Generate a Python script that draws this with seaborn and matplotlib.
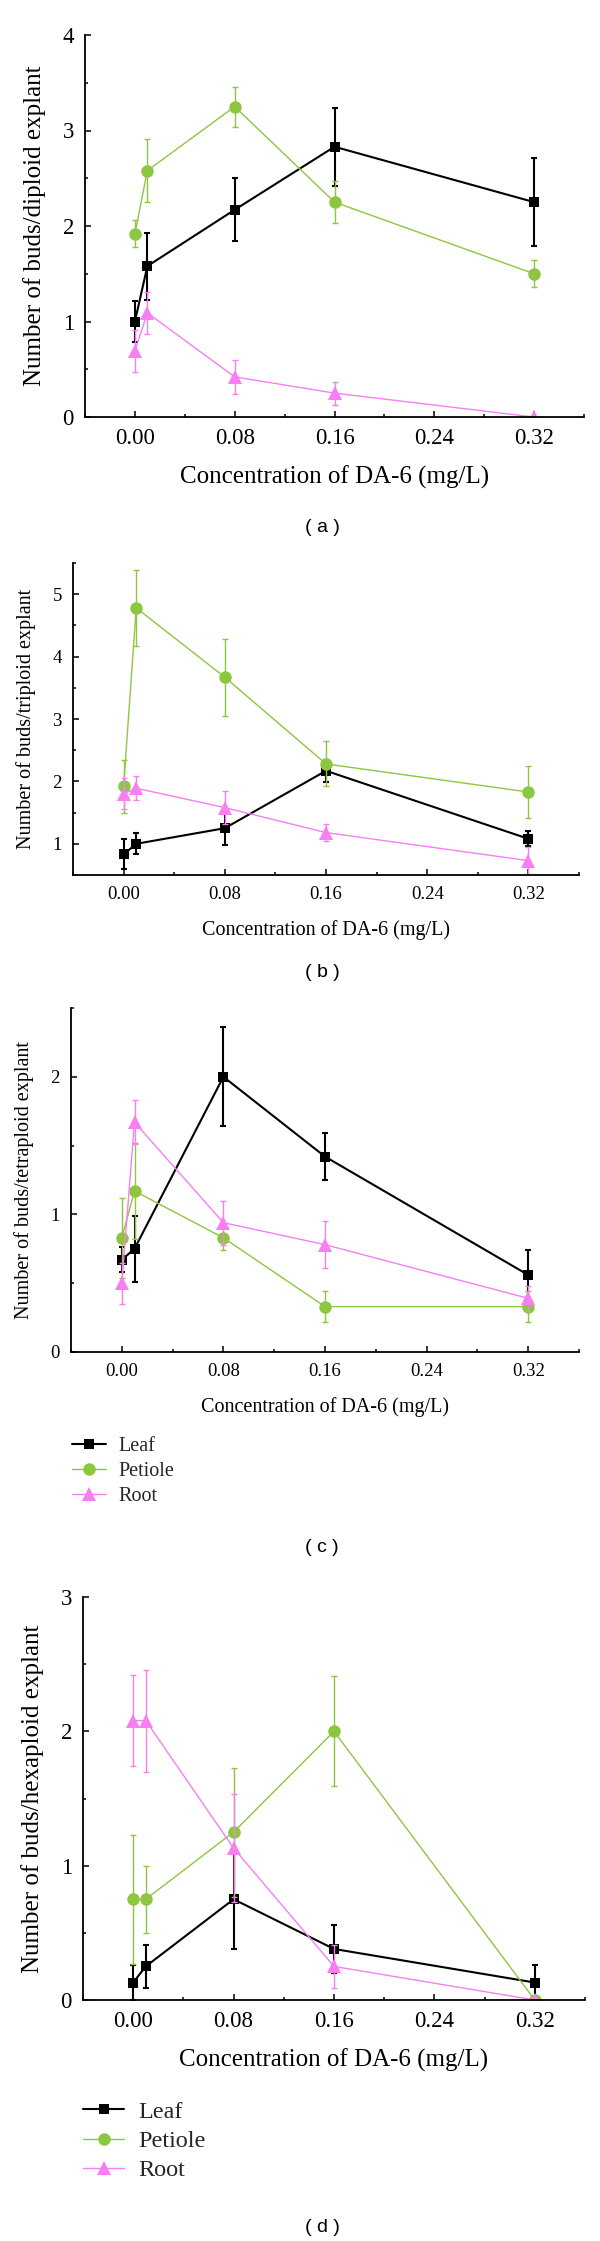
import numpy as np
import pandas as pd
import seaborn as sns
import matplotlib
matplotlib.use('Agg')
import matplotlib.pyplot as plt
from matplotlib.ticker import MultipleLocator

sns.set_theme(style='ticks')
plt.rcParams['font.family'] = ['Liberation Serif', 'DejaVu Serif']

# Data (mean, error) per explant type
conc = [0.00, 0.01, 0.08, 0.16, 0.32]
xticks = [0.00, 0.08, 0.16, 0.24, 0.32]

leaf_a = [1.00, 1.58, 2.17, 2.83, 2.25]
leaf_a_err = [0.21, 0.35, 0.33, 0.41, 0.46]
pet_a = [1.92, 2.58, 3.25, 2.25, 1.50]
pet_a_err = [0.14, 0.33, 0.21, 0.22, 0.14]
root_a = [0.69, 1.09, 0.42, 0.25, 0.00]
root_a_err = [0.22, 0.22, 0.18, 0.12, 0.00]

leaf_b = [0.83, 1.00, 1.25, 2.17, 1.08]
leaf_b_err = [0.24, 0.17, 0.27, 0.18, 0.12]
pet_b = [1.92, 4.78, 3.67, 2.28, 1.83]
pet_b_err = [0.42, 0.61, 0.62, 0.36, 0.41]
root_b = [1.80, 1.89, 1.58, 1.18, 0.73]
root_b_err = [0.25, 0.19, 0.26, 0.13, 0.22]

leaf_c = [0.67, 0.75, 2.00, 1.42, 0.56]
leaf_c_err = [0.09, 0.24, 0.36, 0.17, 0.18]
pet_c = [0.83, 1.17, 0.83, 0.33, 0.33]
pet_c_err = [0.29, 0.35, 0.09, 0.11, 0.11]
root_c = [0.50, 1.67, 0.94, 0.78, 0.39]
root_c_err = [0.15, 0.16, 0.16, 0.17, 0.09]

leaf_d = [0.13, 0.25, 0.75, 0.38, 0.13]
leaf_d_err = [0.13, 0.16, 0.37, 0.18, 0.13]
pet_d = [0.75, 0.75, 1.25, 2.00, 0.00]
pet_d_err = [0.48, 0.25, 0.48, 0.41, 0.00]
root_d = [2.08, 2.08, 1.13, 0.25, 0.00]
root_d_err = [0.34, 0.38, 0.40, 0.16, 0.00]

colors = {'Leaf': '#000000', 'Petiole': '#8dc63f', 'Root': '#f77ff2'}
markers = {'Leaf': 's', 'Petiole': 'o', 'Root': '^'}
msizes = {'Leaf': 7.5, 'Petiole': 9, 'Root': 9.5}
lwidths = {'Leaf': 1.5, 'Petiole': 1.0, 'Root': 1.0}

W, H = 600, 2241
fig = plt.figure(figsize=(W / 100, H / 100), dpi=100)


def px_axes(left, top, right, bottom):
    return fig.add_axes([left / W, 1 - bottom / H, (right - left) / W, (bottom - top) / H])


panels = [
    dict(box=(85, 35, 584, 417), ylim=(0, 4), ylabel='Number of buds/diploid explant',
         series=[('Leaf', leaf_a, leaf_a_err), ('Petiole', pet_a, pet_a_err), ('Root', root_a, root_a_err)],
         tick_fs=16.5, label_fs=18, tag='( a )', tag_y=527, legend=None),
    dict(box=(73, 563, 579, 875), ylim=(0.5, 5.5), ylabel='Number of buds/triploid explant',
         series=[('Leaf', leaf_b, leaf_b_err), ('Petiole', pet_b, pet_b_err), ('Root', root_b, root_b_err)],
         tick_fs=13.5, label_fs=14.5, tag='( b )', tag_y=972, legend=None),
    dict(box=(71, 1008, 579, 1352), ylim=(0, 2.5), ylabel='Number of buds/tetraploid explant',
         series=[('Leaf', leaf_c, leaf_c_err), ('Petiole', pet_c, pet_c_err), ('Root', root_c, root_c_err)],
         tick_fs=13.5, label_fs=14.5, tag='( c )', tag_y=1548, legend=(72, 1437, 14.5)),
    dict(box=(83, 1597, 585, 2000), ylim=(0, 3), ylabel='Number of buds/hexaploid explant',
         series=[('Leaf', leaf_d, leaf_d_err), ('Petiole', pet_d, pet_d_err), ('Root', root_d, root_d_err)],
         tick_fs=16.5, label_fs=18, tag='( d )', tag_y=2227, legend=(83, 2101, 17.4)),
]

for p in panels:
    ax = px_axes(*p['box'])
    for name, vals, errs in p['series']:
        df = pd.DataFrame({'conc': conc, 'buds': vals})
        sns.lineplot(data=df, x='conc', y='buds', ax=ax, color=colors[name], marker=markers[name],
                     markersize=msizes[name], markeredgewidth=0, linewidth=lwidths[name], label=name,
                     legend=False)
        ax.errorbar(conc, vals, yerr=errs, fmt='none', ecolor=colors[name],
                    elinewidth=lwidths[name], capsize=2.5, capthick=lwidths[name])

    ax.set_xlim(-0.04, 0.36)
    ax.set_ylim(*p['ylim'])
    ax.set_xticks(xticks)
    ax.set_xticklabels([f'{t:.2f}' for t in xticks])
    ax.xaxis.set_minor_locator(MultipleLocator(0.04))
    ax.yaxis.set_major_locator(MultipleLocator(1))
    ax.yaxis.set_minor_locator(MultipleLocator(0.5))
    ax.tick_params(which='both', direction='in', width=1.1, colors='black',
                   labelsize=p['tick_fs'], pad=8)
    ax.tick_params(which='major', length=4)
    ax.tick_params(which='minor', length=2.5)
    sns.despine(ax=ax)
    for s in ['left', 'bottom']:
        ax.spines[s].set_linewidth(1.3)
        ax.spines[s].set_color('black')
    ax.set_xlabel('Concentration of DA-6 (mg/L)', fontsize=p['label_fs'], labelpad=12, color='black')
    ax.set_ylabel(p['ylabel'], fontsize=p['label_fs'], labelpad=12, color='black')
    ax.grid(False)

    if p['legend'] is not None:
        lx, ly, lfs = p['legend']
        ax.legend(loc='upper left', bbox_to_anchor=(lx / W, 1 - ly / H), bbox_transform=fig.transFigure,
                  frameon=False, fontsize=lfs, borderpad=0, borderaxespad=0, labelspacing=0.3,
                  handlelength=1.7, handletextpad=0.6)

    fig.text(322 / W, 1 - p['tag_y'] / H, p['tag'], ha='center', va='center',
             family=['Liberation Sans', 'DejaVu Sans'], fontsize=14, color='black')

fig.savefig('out.png', dpi=100, facecolor='white')
